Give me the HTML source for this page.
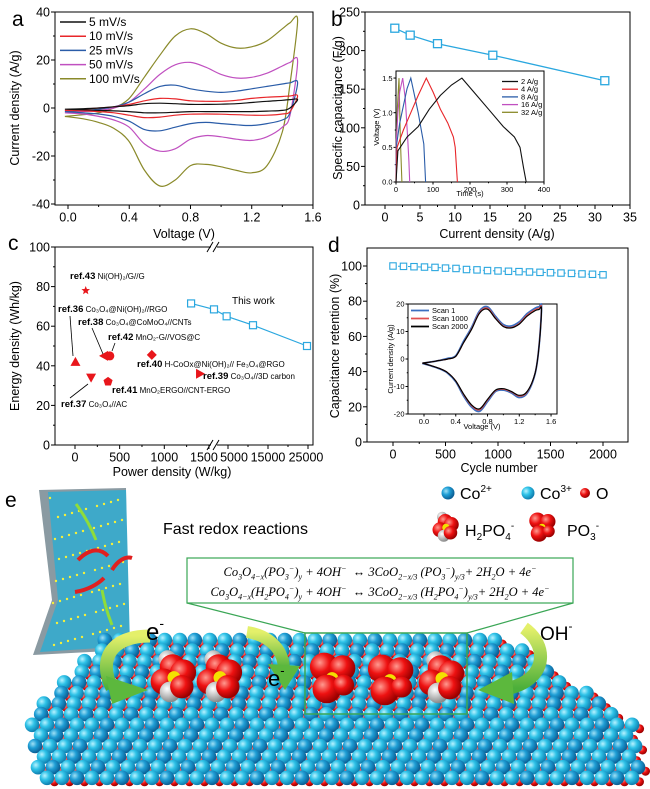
<!DOCTYPE html>
<html><head><meta charset="utf-8">
<style>
html,body{margin:0;padding:0;background:#fff;}
#wrap{position:relative;width:650px;height:789px;overflow:hidden;font-family:"Liberation Sans",sans-serif;}
svg{position:absolute;left:0;top:0;}
.eq{position:absolute;left:187px;width:386px;text-align:center;font-family:"Liberation Serif",serif;font-style:italic;font-size:12.5px;color:#000;white-space:nowrap;}
.eq sub,.eq sup{font-size:8px;}
</style></head>
<body>
<div id="wrap">
<svg id="fig" width="650" height="789" viewBox="0 0 650 789" font-family="Liberation Sans, sans-serif">
<defs>
<radialGradient id="cyanA" cx="35%" cy="35%" r="65%"><stop offset="0" stop-color="#b8f2ff"/><stop offset="0.45" stop-color="#2fc3e8"/><stop offset="1" stop-color="#0f7fb0"/></radialGradient>
<radialGradient id="cyanB" cx="35%" cy="35%" r="65%"><stop offset="0" stop-color="#a0e0f5"/><stop offset="0.45" stop-color="#1f9fd6"/><stop offset="1" stop-color="#0b5f95"/></radialGradient>
<radialGradient id="redA" cx="35%" cy="35%" r="65%"><stop offset="0" stop-color="#ff9a90"/><stop offset="0.5" stop-color="#ee1111"/><stop offset="1" stop-color="#9a0000"/></radialGradient>
<radialGradient id="whiteA" cx="35%" cy="35%" r="65%"><stop offset="0" stop-color="#ffffff"/><stop offset="1" stop-color="#8a8a8a"/></radialGradient>
<linearGradient id="greenA" x1="0" y1="0" x2="0" y2="1"><stop offset="0" stop-color="#e4f06a"/><stop offset="1" stop-color="#4caf3a"/></linearGradient>
</defs>
<rect width="650" height="789" fill="#fff"/>
<g id="panelE">
  <text x="5" y="507" font-size="21">e</text>
  <polygon points="39,490 126,488 128,650 33,655 52,600" fill="#8a9aa2"/>
  <polygon points="48,492 126,490 130,646 40,652 58,600" fill="#3ea9c9"/>
  <g id="sheetDots"></g>
  <g id="lattice"></g>
  <rect x="187" y="558" width="386" height="45" fill="#fff" stroke="#3aa655" stroke-width="1.2"/>
  <line x1="187" y1="603" x2="305" y2="633" stroke="#3aa655" stroke-width="1.2"/>
  <line x1="573" y1="603" x2="467" y2="633" stroke="#3aa655" stroke-width="1.2"/>
  <g id="molecules"></g>
  <rect x="305" y="633" width="162" height="81" fill="none" stroke="#3aa655" stroke-width="1.5"/>
  <g>
    <path d="M150,636 C110,636 98,660 112,688" fill="none" stroke="url(#greenA)" stroke-width="13"/>
    <polygon points="106,676 148,690 112,704" fill="#5cb83d"/>
  </g>
  <g>
    <path d="M247,632 C272,636 284,652 284,670" fill="none" stroke="url(#greenA)" stroke-width="12"/>
    <polygon points="268,664 300,666 285,690" fill="#5cb83d"/>
  </g>
  <g>
    <path d="M524,628 C548,645 548,678 510,688" fill="none" stroke="url(#greenA)" stroke-width="13"/>
    <polygon points="512,672 478,690 514,704" fill="#5cb83d"/>
  </g>
  <path d="M78,560 C90,548 100,548 108,556" fill="none" stroke="#e02020" stroke-width="4"/>
  <path d="M112,570 C118,560 126,556 132,558" fill="none" stroke="#e02020" stroke-width="4"/>
  <path d="M75,592 C88,590 98,584 104,578" fill="none" stroke="#e02020" stroke-width="4"/>
  <path d="M96,540 C90,525 82,512 76,504" fill="none" stroke="#8fdc3a" stroke-width="3"/>
  <path d="M112,625 C106,610 104,600 102,590" fill="none" stroke="#8fdc3a" stroke-width="3"/>
  <text x="146" y="640" font-size="24">e<tspan font-size="14" dy="-12">-</tspan></text>
  <text x="268" y="686" font-size="22">e<tspan font-size="13" dy="-11">-</tspan></text>
  <text x="540" y="640" font-size="19">OH<tspan font-size="12" dy="-10">-</tspan></text>
  <text x="163" y="534" font-size="16">Fast redox reactions</text>
  <g><circle cx="448" cy="493" r="6.5" fill="url(#cyanB)"/><text x="460" y="499" font-size="16">Co<tspan font-size="10" dy="-7">2+</tspan></text></g>
  <g><circle cx="528" cy="493" r="6.5" fill="url(#cyanA)"/><text x="540" y="499" font-size="16">Co<tspan font-size="10" dy="-7">3+</tspan></text></g>
  <g><circle cx="585" cy="493" r="5" fill="url(#redA)"/><text x="596" y="499" font-size="16">O</text></g>
  <g id="legMol"></g>
  <text x="465" y="536" font-size="16">H<tspan font-size="10" dy="4">2</tspan><tspan dy="-4">PO</tspan><tspan font-size="10" dy="4">4</tspan><tspan font-size="10" dy="-11">-</tspan></text>
  <text x="567" y="536" font-size="16">PO<tspan font-size="10" dy="4">3</tspan><tspan font-size="10" dy="-11">-</tspan></text>
</g>
</svg>
<div class="eq" style="top:564px">Co<sub>3</sub>O<sub>4−x</sub>(PO<sub>3</sub><sup>−</sup>)<sub>y</sub> + 4OH<sup>−</sup> &nbsp;↔ 3CoO<sub>2−x/3</sub> (PO<sub>3</sub><sup>−</sup>)<sub>y/3</sub>+ 2H<sub>2</sub>O + 4e<sup>−</sup></div>
<div class="eq" style="top:584px">Co<sub>3</sub>O<sub>4−x</sub>(H<sub>2</sub>PO<sub>4</sub><sup>−</sup>)<sub>y</sub> + 4OH<sup>−</sup> &nbsp;↔ 3CoO<sub>2−x/3</sub> (H<sub>2</sub>PO<sub>4</sub><sup>−</sup>)<sub>y/3</sub>+ 2H<sub>2</sub>O + 4e<sup>−</sup></div>
</div>
<script>
// ===== Panel a data =====
const cvV = [-0.02,0.1,0.2,0.3,0.4,0.5,0.6,0.7,0.8,0.9,1.0,1.1,1.2,1.3,1.4,1.45,1.5];
const cvRates = ['5 mV/s','10 mV/s','25 mV/s','50 mV/s','100 mV/s'];
const cv5U = [-0.5,-0.3,0,0.5,1,1.8,2,1.8,1.5,1.5,1.6,1.8,2.3,2.8,3.2,3.5,3.5];
const cv5L = [-0.5,-0.7,-1,-1.2,-1.5,-2,-2,-1.8,-1.5,-1.5,-1.5,-1.5,-1.5,-1.3,-1,0,3.5];
const cv10U = [-1,-0.5,0,0.5,1.5,3,4,3.8,3,2.8,2.8,3.2,4,4.5,4.8,5,5];
const cv10L = [-1,-1.2,-1.5,-2,-3,-4,-3.8,-3,-2.6,-2.5,-2.6,-2.8,-3,-3,-2.5,-1.5,5];
const cv25U = [-1.5,-1,-0.5,0.5,2.5,6,9,9.5,8,7,6.5,7,8,9,10,10.5,10.5];
const cv25L = [-1.5,-2,-2.5,-3.5,-5.5,-9,-9.5,-8,-6.5,-6,-6.5,-7,-7.3,-6.5,-5,-2,10.5];
const cv50U = [-2,-1.5,-1,0,2.5,8,14,18,19,17,14,12.5,12.8,14.5,17.5,19,19.5];
const cv50L = [-2,-2.5,-3.5,-5,-8,-15,-18,-17,-13,-11.5,-12,-13,-13.5,-12,-8,-3,19.5];
const cv100U = [-3.5,-2.8,-2,0,4,13,22,30,33,31,27,25,25.5,28,33,35.5,36.5];
const cv100L = [-3.5,-4.5,-6,-8.5,-14,-26,-32.5,-30,-24,-23.5,-24.5,-26,-27,-24,-10,10,36.5];
const aTicksX = [0,0.4,0.8,1.2,1.6];
const aTickLabelsX = ['0.0','0.4','0.8','1.2','1.6'];
const aTicksY = [-40,-20,0,20,40];
const aTickLabelsY = ['-40','-20','0','20','40'];
// ===== Panel b data =====
const bCurrent = [1.4,3.6,7.5,15.4,31.4];
const bCap = [229,220,209,194,161];
const bTicksX = [0,5,10,15,20,25,30,35];
const bTicksY = [0,50,100,150,200,250];
const gcdLabels = ['2 A/g','4 A/g','8 A/g','16 A/g','32 A/g'];
const gcd2T = [0,5,30,60,90,120,150,178,210,250,290,320,335,345,352];
const gcd2V = [0,0.45,0.65,0.8,1.05,1.25,1.4,1.5,1.3,1.05,0.8,0.65,0.5,0.2,0];
const gcd4T = [0,3,20,40,60,82,100,120,140,155,160,166];
const gcd4V = [0,0.5,0.75,1.0,1.25,1.5,1.3,1.05,0.85,0.65,0.5,0];
const gcd8T = [0,2,10,20,30,40,50,60,70,75,80];
const gcd8V = [0,0.55,0.85,1.1,1.35,1.5,1.25,1.0,0.7,0.55,0];
const gcd16T = [0,1,5,10,18,25,32,35,37];
const gcd16V = [0,0.6,1.0,1.3,1.5,1.2,0.6,0.3,0];
const gcd32T = [0,1,4,8,12,16];
const gcd32V = [0,0.6,1.1,1.5,0.6,0];
// ===== Panel c data =====
const workPower = [1300,2420,4750,11250,24750];
const workEnergy = [71.5,68.5,65,60.5,50];
const refNames = ['ref.43','ref.36','ref.38','ref.42','ref.40','ref.39','ref.37','ref.41'];
const refPower = [120,5,325,390,860,1400,180,370];
const refEnergy = [78,42,45,45,45.5,36,34,32];
const refShapes = ['star','up','left','circle','diamond','right','down','pentagon'];
const cTicksX = [0,500,1000,1500,5000,15000,25000];
const cTicksY = [0,20,40,60,80,100];
// ===== Panel d data =====
const cycles = [0,100,200,300,400,500,600,700,800,900,1000,1100,1200,1300,1400,1500,1600,1700,1800,1900,2000];
const retention = [100,99.8,99.6,99.4,99.2,98.8,98.6,98,97.8,97.4,97.2,97,96.8,96.6,96.4,96.2,96,95.8,95.5,95.3,95];
const dTicksX = [0,500,1000,1500,2000];
const dTicksY = [0,20,40,60,80,100];
const scanLabels = ['Scan 1','Scan 1000','Scan 2000'];
const scanV = [-0.02,0.1,0.2,0.3,0.4,0.5,0.6,0.7,0.8,0.9,1.0,1.1,1.2,1.3,1.4,1.45,1.48];
const scan1U = [-1.6,-1,-0.5,0.2,1.2,6.5,11.5,17.5,19,15.5,12.5,12,13.5,16.5,18.5,19,19];
const scan1L = [-1.6,-2.6,-3.6,-5.2,-8.3,-13.5,-17.5,-19,-15.5,-11.8,-11.3,-12.3,-14,-12.4,-5.2,5,19];
const scan1000U = [-1.5,-1,-0.5,0,1,6,11,17,18.5,15,12,11.5,13,16,18,18.5,18.5];
const scan1000L = [-1.5,-2.5,-3.5,-5,-8,-13,-17,-18.5,-15,-11.5,-11,-12,-13.5,-12,-5,5,18.5];
const scan2000U = [-1.5,-1,-0.5,0,1,6,10.8,16.7,18.1,14.7,11.8,11.3,12.7,15.6,17.6,18,18];
const scan2000L = [-1.5,-2.5,-3.5,-5,-8,-12.8,-16.7,-18.1,-14.7,-11.3,-10.8,-11.8,-13.2,-11.8,-5,4.8,18];

const NS='http://www.w3.org/2000/svg';
const svg=document.getElementById('fig');
function mk(tag,attrs,parent){const e=document.createElementNS(NS,tag);for(const k in attrs)e.setAttribute(k,attrs[k]);(parent||svg).appendChild(e);return e;}
function txt(x,y,s,attrs,parent){const t=mk('text',Object.assign({x:x,y:y},attrs),parent);t.textContent=s;return t;}
function smooth(p){let d='M'+p[0][0].toFixed(1)+','+p[0][1].toFixed(1);for(let i=0;i<p.length-1;i++){const p0=p[i-1]||p[i],p1=p[i],p2=p[i+1],p3=p[i+2]||p2;const c1=[p1[0]+(p2[0]-p0[0])/6,p1[1]+(p2[1]-p0[1])/6],c2=[p2[0]-(p3[0]-p1[0])/6,p2[1]-(p3[1]-p1[1])/6];d+='C'+c1[0].toFixed(1)+','+c1[1].toFixed(1)+' '+c2[0].toFixed(1)+','+c2[1].toFixed(1)+' '+p2[0].toFixed(1)+','+p2[1].toFixed(1);}return d;}
function poly(p){return 'M'+p.map(q=>q[0].toFixed(1)+','+q[1].toFixed(1)).join('L');}

function axes(pfx,box,xTicks,xLabels,xs,xMinor,yTicks,yLabels,ys,yMinor,fs,tl,g,xDx){
  const r=mk('rect',{x:box[0],y:box[1],width:box[2]-box[0],height:box[3]-box[1],fill:'none',stroke:'#000','stroke-width':1},g);
  
  
  xTicks.forEach((v,i)=>{const x=xs(v);
    const l=mk('line',{x1:x,y1:box[3],x2:x,y2:box[3]+tl,stroke:'#000'},g);
    
    
    const t=txt(x+(xDx?xDx[i]:0),box[3]+tl+fs,xLabels[i],{'font-size':fs,'text-anchor':'middle'},g);
    
    });
  xMinor.forEach(v=>{const x=xs(v);const l=mk('line',{x1:x,y1:box[3],x2:x,y2:box[3]+tl/2,stroke:'#000'},g);
    
    });
  yTicks.forEach((v,i)=>{const y=ys(v);
    const l=mk('line',{x1:box[0]-tl,y1:y,x2:box[0],y2:y,stroke:'#000'},g);
    
    
    const t=txt(box[0]-tl-1,y+fs*0.36,yLabels[i],{'font-size':fs,'text-anchor':'end'},g);
    
    });
  yMinor.forEach(v=>{const y=ys(v);const l=mk('line',{x1:box[0]-tl/2,y1:y,x2:box[0],y2:y,stroke:'#000'},g);
    
    });
}
function label(x,y,s,fs,rot,name,g,anchor){const t=txt(x,y,s,{'font-size':fs,'text-anchor':anchor||'middle'},g);if(rot)t.setAttribute('transform','rotate(-90 '+x+' '+y+')');
  
  return t;}

// ===== Panel a =====
const gA=mk('g',{});


const xA=v=>68+v*153.1, yA=i=>108-i*2.4;
axes('a',[55,12,313,205],aTicksX,aTickLabelsX,xA,[0.2,0.6,1.0,1.4],aTicksY,aTickLabelsY,yA,[-30,-10,10,30],12.5,4,gA);
label(12,26,'a',21,false,'panel-label-a',gA,'start');
label(19,108,'Current density (A/g)',12.5,true,'a-y-axis-title',gA);
label(184,238,'Voltage (V)',12.5,false,'a-x-axis-title',gA);
const cvColors=['#111','#e8262a','#2a5ca8','#c050c0','#8a8a2a'];
const cvU=[cv5U,cv10U,cv25U,cv50U,cv100U], cvL=[cv5L,cv10L,cv25L,cv50L,cv100L];
for(let k=4;k>=0;k--){
  const up=cvV.map((v,i)=>[xA(v),yA(cvU[k][i])]);
  const lo=cvV.map((v,i)=>[xA(v),yA(cvL[k][i])]).reverse().slice(1);
  const p=mk('path',{d:smooth(up.concat(lo))+'Z',fill:'none',stroke:cvColors[k],'stroke-width':1.2},gA);
  
  
}
cvRates.forEach((s,k)=>{const y=26+k*14.2;
  const l=mk('line',{x1:60,y1:y-4,x2:86,y2:y-4,stroke:cvColors[k],'stroke-width':1.5},gA);
  
  
  const t=txt(89,y,s,{'font-size':12},gA);
  
  });

// ===== Panel b =====
const gB=mk('g',{});


const xB=v=>385+v*7, yB=c=>205-c*0.772;
axes('b',[365,12,630,205],bTicksX,bTicksX.map(String),xB,[2.5,7.5,12.5,17.5,22.5,27.5,32.5],bTicksY,bTicksY.map(String),yB,[25,75,125,175,225],12.5,4,gB);
label(331,26,'b',21,false,'panel-label-b',gB,'start');
label(342,108,'Specific capacitance (F/g)',12.5,true,'b-y-axis-title',gB);
label(497,238,'Current density (A/g)',12.5,false,'b-x-axis-title',gB);
const bl=mk('path',{d:poly(bCurrent.map((c,i)=>[xB(c),yB(bCap[i])])),fill:'none',stroke:'#2aa7df','stroke-width':1.3},gB);


bCurrent.forEach((c,i)=>{const m=mk('rect',{x:xB(c)-4,y:yB(bCap[i])-4,width:8,height:8,fill:'#fff',stroke:'#2aa7df','stroke-width':1.3},gB);
  
  });
const xI=t=>396+t*0.37, yI=v=>182-v*69.3;
const ib=mk('rect',{x:396,y:71,width:148,height:111,fill:'#fff'},gB);


axes('b-inset',[396,71,544,182],[0,100,200,300,400],['0','100','200','300','400'],xI,[50,150,250,350],[0,0.5,1.0,1.5],['0.0','0.5','1.0','1.5'],yI,[0.25,0.75,1.25],7.5,2.5,gB);
label(379,127,'Voltage (V)',7.5,true,'gcd-y-axis-title',gB);
label(470,196,'Time (s)',7.5,false,'gcd-x-axis-title',gB);
const gcdT=[gcd2T,gcd4T,gcd8T,gcd16T,gcd32T], gcdV=[gcd2V,gcd4V,gcd8V,gcd16V,gcd32V];
const gcdColors=['#111','#e8262a','#2a5ca8','#c050c0','#8a8a2a'];
for(let k=4;k>=0;k--){const p=mk('path',{d:poly(gcdT[k].map((t,i)=>[xI(t),yI(gcdV[k][i])])),fill:'none',stroke:gcdColors[k],'stroke-width':1.1},gB);
  
  }
gcdLabels.forEach((s,k)=>{const y=84+k*7.7;
  const l=mk('line',{x1:502,y1:y-2.5,x2:518,y2:y-2.5,stroke:gcdColors[k],'stroke-width':1.3},gB);
  
  
  const t=txt(521,y,s,{'font-size':7.5},gB);
  
  });

// ===== Panel c =====
const gC=mk('g',{});


const xC=v=> v<=1500 ? 75+v*0.0893 : (v<=5000 ? 209+(v-1500)/3500*19 : 228+(v-5000)*0.004);
const yC=e=>445-e*1.98;
axes('c',[55,247,313,445],cTicksX,cTicksX.map(String),xC,[250,750,1250,10000,20000],cTicksY,cTicksY.map(String),yC,[10,30,50,70,90],12.5,4,gC,[0,0,0,-5,6,0,-2]);
[247,445].forEach(y=>{const w=mk('rect',{x:211,y:y-2,width:6,height:4,fill:'#fff'},gC);
  
  
  const b=mk('path',{d:'M207,'+(y+5)+'L213,'+(y-5)+'M213,'+(y+5)+'L219,'+(y-5),stroke:'#000','stroke-width':1},gC);
  
  });
label(8,250,'c',21,false,'panel-label-c',gC,'start');
label(19,346,'Energy density (Wh/kg)',12.5,true,'c-y-axis-title',gC);
label(172,476,'Power density (W/kg)',12.5,false,'c-x-axis-title',gC);
const cl=mk('path',{d:poly(workPower.map((p,i)=>[xC(p),yC(workEnergy[i])])),fill:'none',stroke:'#2aa7df','stroke-width':1.2},gC);


workPower.forEach((p,i)=>{const m=mk('rect',{x:xC(p)-3.5,y:yC(workEnergy[i])-3.5,width:7,height:7,fill:'#fff',stroke:'#2aa7df','stroke-width':1.2},gC);
  
  });
label(232,304,'This work',10,false,'this-work-label',gC,'start');
function shape(s,x,y){const r=5;let pts;
  if(s==='circle') return mk('circle',{cx:x,cy:y,r:4.5,fill:'#e8161b'},gC);
  if(s==='up') pts=[[x,y-r],[x+r,y+r*0.8],[x-r,y+r*0.8]];
  if(s==='down') pts=[[x,y+r],[x+r,y-r*0.8],[x-r,y-r*0.8]];
  if(s==='left') pts=[[x-r,y],[x+r*0.8,y-r],[x+r*0.8,y+r]];
  if(s==='right') pts=[[x+r,y],[x-r*0.8,y-r],[x-r*0.8,y+r]];
  if(s==='diamond') pts=[[x,y-r],[x+r,y],[x,y+r],[x-r,y]];
  if(s==='pentagon'){pts=[];for(let i=0;i<5;i++){const a=-Math.PI/2+i*2*Math.PI/5;pts.push([x+4.8*Math.cos(a),y+4.8*Math.sin(a)]);}}
  if(s==='star'){pts=[];for(let i=0;i<10;i++){const a=-Math.PI/2+i*Math.PI/5,rr=i%2?2:4.5;pts.push([x+rr*Math.cos(a),y+rr*Math.sin(a)]);}}
  return mk('polygon',{points:pts.map(p=>p.join(',')).join(' '),fill:'#e8161b'},gC);}
refPower.forEach((p,i)=>{const m=shape(refShapes[i],xC(p),yC(refEnergy[i]));
  
  });
const refLabelData=[['ref.43',' Ni(OH)₂/G//G',70,279],['ref.36',' Co₃O₄@Ni(OH)₂//RGO',58,312],['ref.38',' Co₃O₄@CoMoO₄//CNTs',78,325],['ref.42',' MnO₂-G//VOS@C',108,340],['ref.40',' H-CoOx@Ni(OH)₂// Fe₃O₄@RGO',137,367],['ref.39',' Co₃O₄//3D carbon',203,379],['ref.41',' MnO₂ERGO//CNT-ERGO',112,393],['ref.37',' Co₃O₄//AC',61,407]];
refLabelData.forEach(r=>{const t=mk('text',{x:r[2],y:r[3],'font-size':8},gC);
  const a=mk('tspan',{'font-weight':'bold','font-size':9.5},t);a.textContent=r[0];
  const b=mk('tspan',{},t);b.textContent=r[1];
  
  });
[[70,316,73,356],[92,328,103,354],[115,343,112,351],[70,398,88,384]].forEach(l=>{const e=mk('line',{x1:l[0],y1:l[1],x2:l[2],y2:l[3],stroke:'#000','stroke-width':0.8},gC);
  
  });

// ===== Panel d =====
const gD=mk('g',{});


const xD=n=>393+n*0.105, yD=r=>442-r*1.76;
axes('d',[367,248,628,442],dTicksX,dTicksX.map(String),xD,[250,750,1250,1750],dTicksY,dTicksY.map(String),yD,[10,30,50,70,90],12.5,4,gD);
label(328,252,'d',21,false,'panel-label-d',gD,'start');
label(339,346,'Capacitance retention (%)',12.5,true,'d-y-axis-title',gD);
label(499,472,'Cycle number',12.5,false,'d-x-axis-title',gD);
const dl=mk('path',{d:poly(cycles.map((c,i)=>[xD(c),yD(retention[i])])),fill:'none',stroke:'#2aa7df','stroke-width':1,'stroke-dasharray':'3,2'},gD);


cycles.forEach((c,i)=>{const m=mk('rect',{x:xD(c)-3.2,y:yD(retention[i])-3.2,width:6.4,height:6.4,fill:'#fff',stroke:'#2aa7df','stroke-width':1.1},gD);
  
  });
const xE=v=>424+v*79.4, yE=i=>359-i*2.75;
axes('d-inset',[408,304,557,414],[0,0.4,0.8,1.2,1.6],['0.0','0.4','0.8','1.2','1.6'],xE,[0.2,0.6,1.0,1.4],[-20,-10,0,10,20],['-20','-10','0','10','20'],yE,[-15,-5,5,15],7.5,2.5,gD);
label(393,359,'Current density (A/g)',7.5,true,'cv-inset-y-axis-title',gD);
label(482,429,'Voltage (V)',7.5,false,'cv-inset-x-axis-title',gD);
const scU=[scan1U,scan1000U,scan2000U], scL=[scan1L,scan1000L,scan2000L], scC=['#3a6fc0','#e05050','#000'];
for(let k=0;k<3;k++){const up=scanV.map((v,i)=>[xE(v),yE(scU[k][i])]);const lo=scanV.map((v,i)=>[xE(v),yE(scL[k][i])]).reverse().slice(1);
  const p=mk('path',{d:smooth(up.concat(lo))+'Z',fill:'none',stroke:scC[k],'stroke-width':k===0?1.8:1.2},gD);
  
  }
scanLabels.forEach((s,k)=>{const y=313+k*8;
  const l=mk('line',{x1:411,y1:y-2.5,x2:429,y2:y-2.5,stroke:scC[k],'stroke-width':1.8},gD);
  
  
  const t=txt(432,y,s,{'font-size':7.5},gD);
  
  });

// ===== Panel e decorative generation =====
const sd=document.getElementById('sheetDots');
for(let i=0;i<70;i++){const x=50+((i*37)%75), y=498+((i*53)%148);
  const c=mk('circle',{cx:x,cy:y,r:1.2,fill:'#f5f03a'},sd);
  
  }
const lat=document.getElementById('lattice');
for(let j=0;j<14;j++){const y=640+j*10.6;
  const xs=y<717?100-(y-645)/72*69:31+(y-717)/43*6;
  const xe=y<727?500+Math.max(0,(y-635))/92*143:641;
  const off=(j%2)*7.5;
  for(let x=xs+off;x<=xe;x+=15){
    const o=mk('circle',{cx:x+7.5,cy:y+4,r:4.5,fill:'url(#redA)'},lat);
    
    
    const c=mk('circle',{cx:x,cy:y,r:7.3,fill:((Math.floor(x/15)+j)%3===0)?'url(#cyanB)':'url(#cyanA)'},lat);
    
    }}
function molecule(x,y,s,h2,parent){const g=mk('g',{},parent);
  const atoms=h2?[[-5,-12,7,'url(#whiteA)'],[-1,-6,10,'url(#redA)'],[7,-2,10,'url(#redA)'],[-8,5,10,'url(#redA)'],[0,2,5,'#f3e000'],[-3,13,8,'url(#whiteA)'],[6,9,9,'url(#redA)']]
                 :[[-6,-7,11,'url(#redA)'],[8,-6,10,'url(#redA)'],[0,2,5,'#f3e000'],[-4,10,11,'url(#redA)'],[9,7,8,'url(#redA)']];
  atoms.forEach(a=>mk('circle',{cx:x+a[0]*s,cy:y+a[1]*s,r:a[2]*s,fill:a[3]},g));
  return g;}
const mg=document.getElementById('molecules');
[[174,675,1.3,1],[220,675,1.3,1],[332,676,1.3,0],[390,678,1.3,0],[442,676,1.3,1]].forEach(m=>{const g=molecule(m[0],m[1],m[2],m[3],mg);
  
  });
const lm=document.getElementById('legMol');
const m1=molecule(446,526,0.75,1,lm);


const m2=molecule(542,526,0.75,0,lm);


</script>
</body></html>
